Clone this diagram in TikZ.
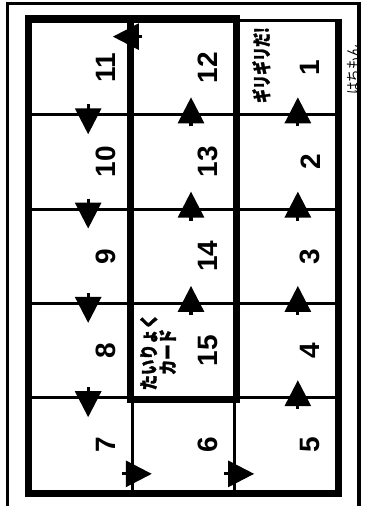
\documentclass[tikz,border=0pt]{standalone}
\usepackage{fontspec}
\setmainfont{Liberation Sans}
\newfontfamily\jpfont[BoldFeatures={FakeBold=2}]{Noto Sans CJK JP}
\usetikzlibrary{arrows.meta}
\tikzset{
  cell/.style={draw,line width=2.3pt,minimum width=76.75pt,minimum height=70.7pt,inner sep=0pt},
  heavy/.style={line width=5.5pt},
  frm/.style={line width=2.3pt},
  num/.style={rotate=90,inner sep=0pt,font=\bfseries\fontsize{21}{21}\selectfont},
  lbl/.style={rotate=90,inner sep=0pt,align=center,font=\jpfont\bfseries\fontsize{14}{14.25}\selectfont},
  sml/.style={rotate=90,inner sep=0pt,font=\jpfont\fontsize{11.5}{11.5}\selectfont},
  mv/.style={line width=2.3pt,-{Triangle[length=19.5pt,width=19.5pt]}}
}

\begin{document}
\begin{tikzpicture}[x=0.75pt,y=-0.75pt]
\useasboundingbox (0,0) rectangle (366,506);
\draw[frm] (7.5,510) |- (359,3.5) -- (359,510);
\foreach \n/\c/\r in {11/0/0,10/0/1,9/0/2,8/0/3,7/0/4,12/1/0,13/1/1,14/1/2,15/1/3,6/1/4,1/2/0,2/2/1,3/2/2,4/2/3,5/2/4}{
  \node[cell] (c\n) at ({81.17+102.33*\c},{67.65+94.3*\r}) {};
  \node[num] (n\n) at ([shift={(24.5,0)}]c\n.center) {\n};
}
\draw[heavy] (c1.north east) |- (c7.south west) |- (c12.north east);
\draw[heavy] (c12.north west) rectangle (c15.south east);
\foreach \a/\b in {5/4,4/3,3/2,2/1}
  \draw[mv] ([shift={(12,13)}]c\a.north) -- ([shift={(12,-19)}]c\b.south);
\foreach \a/\b in {15/14,14/13,13/12}
  \draw[mv] ([shift={(7.5,13)}]c\a.north) -- ([shift={(7.5,-19)}]c\b.south);
\foreach \a/\b in {11/10,10/9,9/8,8/7}
  \draw[mv] ([shift={(7,-12)}]c\a.south) -- ([shift={(7,21)}]c\b.north);
\draw[mv] ([shift={(11,-31)}]c12.west) -- ([shift={(-21,-31)}]c11.east);
\draw[mv] ([shift={(-12,29)}]c7.east) -- ([shift={(21,29)}]c6.west);
\draw[mv] ([shift={(-12,29)}]c6.east) -- ([shift={(21,29)}]c5.west);
\node[lbl,xscale=0.75] (t1) at ([shift={(-24.5,-2.5)}]c1.center) {ギリギリだ!};
\node[lbl,xscale=0.82] (t15) at ([shift={(-25.5,1.5)}]c15.center) {たいりょく\\カード};
\node[sml,xscale=0.82] (tm) at ([shift={(15.5,2)}]c1.east) {はちもん};
\end{tikzpicture}
\end{document}
